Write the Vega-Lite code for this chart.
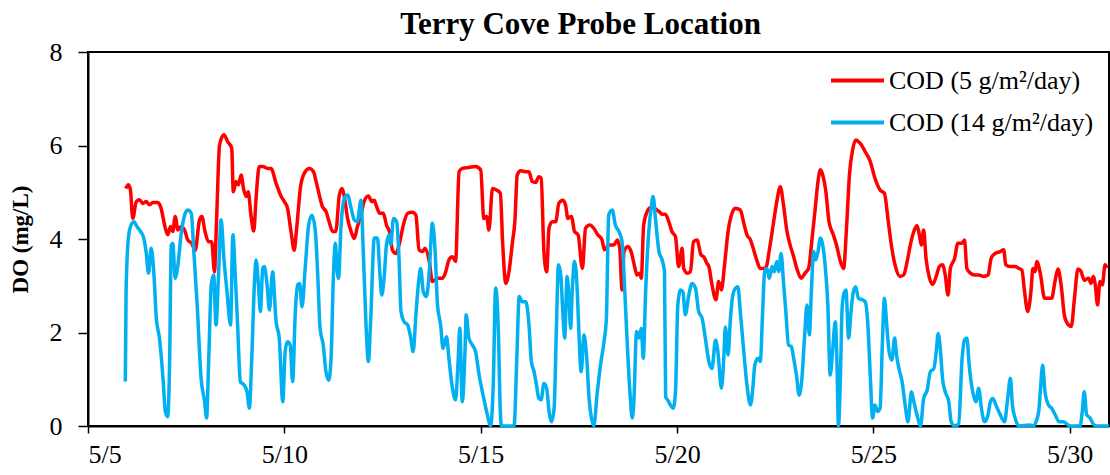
{
  "$schema": "https://vega.github.io/schema/vega-lite/v6.json",
  "width": 1021,
  "height": 374,
  "autosize": {"type": "none"},
  "padding": {"left": 88, "top": 52, "right": 1, "bottom": 49},
  "background": "white",
  "config": {
    "font": "Liberation Serif",
    "view": {"stroke": "black", "strokeWidth": 2},
    "axis": {
      "domainColor": "black",
      "domainWidth": 2,
      "tickColor": "black",
      "tickWidth": 1.5,
      "labelColor": "black",
      "labelFont": "Liberation Serif",
      "labelFontSize": 26,
      "titleFont": "Liberation Serif",
      "grid": false
    }
  },
  "title": {
    "text": "Terry Cove Probe Location",
    "font": "Liberation Serif",
    "fontSize": 31,
    "fontWeight": "bold",
    "color": "black",
    "anchor": "middle",
    "dx": -18,
    "dy": 2,
    "offset": 0
  },
  "datasets": {
    "cod5": [
      {"day": 5.96, "do": 5.08}, {"day": 6.03, "do": 5.16}, {"day": 6.08, "do": 5.05}, {"day": 6.14, "do": 4.44},
      {"day": 6.23, "do": 4.80}, {"day": 6.31, "do": 4.84}, {"day": 6.40, "do": 4.76}, {"day": 6.48, "do": 4.80},
      {"day": 6.57, "do": 4.73}, {"day": 6.65, "do": 4.78}, {"day": 6.78, "do": 4.78}, {"day": 6.86, "do": 4.66},
      {"day": 6.95, "do": 4.30}, {"day": 7.03, "do": 4.09}, {"day": 7.10, "do": 4.27}, {"day": 7.16, "do": 4.16},
      {"day": 7.22, "do": 4.48}, {"day": 7.29, "do": 4.19}, {"day": 7.37, "do": 4.27}, {"day": 7.46, "do": 4.19},
      {"day": 7.54, "do": 3.98}, {"day": 7.64, "do": 3.91}, {"day": 7.73, "do": 3.76}, {"day": 7.84, "do": 4.41},
      {"day": 7.90, "do": 4.48}, {"day": 7.98, "do": 4.16}, {"day": 8.07, "do": 3.94}, {"day": 8.15, "do": 3.94},
      {"day": 8.22, "do": 3.30}, {"day": 8.27, "do": 4.30}, {"day": 8.35, "do": 6.01}, {"day": 8.46, "do": 6.23},
      {"day": 8.56, "do": 6.08}, {"day": 8.66, "do": 5.94}, {"day": 8.70, "do": 5.01}, {"day": 8.77, "do": 5.23},
      {"day": 8.83, "do": 5.16}, {"day": 8.90, "do": 5.37}, {"day": 8.96, "do": 5.08}, {"day": 9.03, "do": 4.91},
      {"day": 9.08, "do": 5.01}, {"day": 9.15, "do": 4.51}, {"day": 9.22, "do": 4.17}, {"day": 9.28, "do": 4.87},
      {"day": 9.36, "do": 5.55}, {"day": 9.45, "do": 5.55}, {"day": 9.58, "do": 5.51}, {"day": 9.66, "do": 5.51},
      {"day": 9.79, "do": 5.19}, {"day": 9.92, "do": 4.91}, {"day": 10.00, "do": 4.80}, {"day": 10.08, "do": 4.66},
      {"day": 10.17, "do": 4.16}, {"day": 10.25, "do": 3.76}, {"day": 10.31, "do": 4.20}, {"day": 10.42, "do": 5.16},
      {"day": 10.53, "do": 5.44}, {"day": 10.64, "do": 5.51}, {"day": 10.74, "do": 5.44}, {"day": 10.82, "do": 5.19},
      {"day": 10.89, "do": 4.94}, {"day": 10.97, "do": 4.69}, {"day": 11.06, "do": 4.59}, {"day": 11.14, "do": 4.37},
      {"day": 11.23, "do": 4.16}, {"day": 11.31, "do": 4.16}, {"day": 11.40, "do": 4.94}, {"day": 11.47, "do": 5.08},
      {"day": 11.52, "do": 4.94}, {"day": 11.61, "do": 4.44}, {"day": 11.70, "do": 4.16}, {"day": 11.78, "do": 4.01},
      {"day": 11.86, "do": 4.26}, {"day": 11.95, "do": 4.51}, {"day": 12.03, "do": 4.80}, {"day": 12.14, "do": 4.92},
      {"day": 12.23, "do": 4.80}, {"day": 12.29, "do": 4.83}, {"day": 12.35, "do": 4.69}, {"day": 12.43, "do": 4.55},
      {"day": 12.52, "do": 4.55}, {"day": 12.60, "do": 4.30}, {"day": 12.69, "do": 4.12}, {"day": 12.75, "do": 3.77},
      {"day": 12.84, "do": 3.69}, {"day": 12.94, "do": 3.94}, {"day": 13.03, "do": 4.30}, {"day": 13.14, "do": 4.55},
      {"day": 13.26, "do": 4.57}, {"day": 13.35, "do": 4.51}, {"day": 13.43, "do": 3.77}, {"day": 13.52, "do": 3.73},
      {"day": 13.58, "do": 3.80}, {"day": 13.69, "do": 3.52}, {"day": 13.77, "do": 3.09}, {"day": 13.90, "do": 3.16},
      {"day": 14.03, "do": 3.16}, {"day": 14.11, "do": 3.30}, {"day": 14.19, "do": 3.55}, {"day": 14.28, "do": 3.62},
      {"day": 14.36, "do": 3.52}, {"day": 14.45, "do": 5.44}, {"day": 14.53, "do": 5.51}, {"day": 14.70, "do": 5.53},
      {"day": 14.87, "do": 5.55}, {"day": 15.00, "do": 5.48}, {"day": 15.08, "do": 4.44}, {"day": 15.15, "do": 4.48},
      {"day": 15.21, "do": 4.19}, {"day": 15.30, "do": 5.08}, {"day": 15.40, "do": 5.05}, {"day": 15.50, "do": 4.98},
      {"day": 15.56, "do": 3.90}, {"day": 15.64, "do": 3.05}, {"day": 15.72, "do": 3.30}, {"day": 15.81, "do": 3.94},
      {"day": 15.87, "do": 4.37}, {"day": 15.93, "do": 5.37}, {"day": 16.02, "do": 5.46}, {"day": 16.15, "do": 5.44},
      {"day": 16.23, "do": 5.44}, {"day": 16.31, "do": 5.23}, {"day": 16.40, "do": 5.21}, {"day": 16.48, "do": 5.33},
      {"day": 16.54, "do": 5.30}, {"day": 16.61, "do": 3.73}, {"day": 16.68, "do": 3.30}, {"day": 16.74, "do": 4.23},
      {"day": 16.82, "do": 4.37}, {"day": 16.91, "do": 4.37}, {"day": 16.99, "do": 4.76}, {"day": 17.09, "do": 4.83},
      {"day": 17.16, "do": 4.73}, {"day": 17.22, "do": 4.44}, {"day": 17.31, "do": 4.48}, {"day": 17.39, "do": 4.16},
      {"day": 17.48, "do": 4.09}, {"day": 17.59, "do": 3.37}, {"day": 17.67, "do": 4.23}, {"day": 17.78, "do": 4.30},
      {"day": 17.88, "do": 4.23}, {"day": 17.98, "do": 4.09}, {"day": 18.09, "do": 3.98}, {"day": 18.15, "do": 3.77},
      {"day": 18.26, "do": 3.87}, {"day": 18.39, "do": 3.87}, {"day": 18.48, "do": 3.98}, {"day": 18.54, "do": 3.80},
      {"day": 18.60, "do": 2.91}, {"day": 18.65, "do": 3.73}, {"day": 18.75, "do": 3.84}, {"day": 18.83, "do": 3.73},
      {"day": 18.92, "do": 3.41}, {"day": 18.98, "do": 3.23}, {"day": 19.05, "do": 3.27}, {"day": 19.09, "do": 3.16},
      {"day": 19.15, "do": 4.30}, {"day": 19.24, "do": 4.59}, {"day": 19.32, "do": 4.67}, {"day": 19.41, "do": 4.66},
      {"day": 19.54, "do": 4.59}, {"day": 19.62, "do": 4.53}, {"day": 19.70, "do": 4.53}, {"day": 19.79, "do": 4.37},
      {"day": 19.87, "do": 4.16}, {"day": 19.96, "do": 4.05}, {"day": 20.04, "do": 3.41}, {"day": 20.13, "do": 3.80},
      {"day": 20.17, "do": 3.37}, {"day": 20.26, "do": 3.27}, {"day": 20.34, "do": 3.30}, {"day": 20.42, "do": 3.94},
      {"day": 20.51, "do": 3.98}, {"day": 20.61, "do": 3.66}, {"day": 20.68, "do": 3.62}, {"day": 20.76, "do": 3.48},
      {"day": 20.81, "do": 3.41}, {"day": 20.89, "do": 3.02}, {"day": 20.99, "do": 2.70}, {"day": 21.06, "do": 3.09},
      {"day": 21.13, "do": 2.91}, {"day": 21.21, "do": 3.45}, {"day": 21.30, "do": 4.16}, {"day": 21.40, "do": 4.55},
      {"day": 21.48, "do": 4.66}, {"day": 21.61, "do": 4.62}, {"day": 21.70, "do": 4.34}, {"day": 21.78, "do": 4.09},
      {"day": 21.87, "do": 3.98}, {"day": 21.95, "do": 3.77}, {"day": 22.04, "do": 3.52}, {"day": 22.12, "do": 3.37},
      {"day": 22.25, "do": 3.37}, {"day": 22.37, "do": 3.87}, {"day": 22.46, "do": 4.37}, {"day": 22.54, "do": 4.80},
      {"day": 22.63, "do": 5.12}, {"day": 22.71, "do": 4.73}, {"day": 22.80, "do": 4.16}, {"day": 22.88, "do": 3.87},
      {"day": 22.97, "do": 3.62}, {"day": 23.05, "do": 3.37}, {"day": 23.16, "do": 3.16}, {"day": 23.26, "do": 3.27},
      {"day": 23.35, "do": 3.37}, {"day": 23.43, "do": 3.94}, {"day": 23.52, "do": 4.66}, {"day": 23.59, "do": 5.23},
      {"day": 23.65, "do": 5.48}, {"day": 23.71, "do": 5.37}, {"day": 23.79, "do": 5.01}, {"day": 23.87, "do": 4.37},
      {"day": 23.98, "do": 4.09}, {"day": 24.07, "do": 3.84}, {"day": 24.15, "do": 3.55}, {"day": 24.24, "do": 3.37},
      {"day": 24.32, "do": 4.30}, {"day": 24.39, "do": 5.37}, {"day": 24.47, "do": 5.90}, {"day": 24.55, "do": 6.12},
      {"day": 24.66, "do": 6.05}, {"day": 24.79, "do": 5.87}, {"day": 24.92, "do": 5.66}, {"day": 25.04, "do": 5.30},
      {"day": 25.17, "do": 5.05}, {"day": 25.28, "do": 4.98}, {"day": 25.38, "do": 4.37}, {"day": 25.47, "do": 3.80},
      {"day": 25.55, "do": 3.45}, {"day": 25.68, "do": 3.20}, {"day": 25.77, "do": 3.23}, {"day": 25.86, "do": 3.52},
      {"day": 25.94, "do": 3.87}, {"day": 26.03, "do": 4.16}, {"day": 26.11, "do": 4.29}, {"day": 26.17, "do": 4.09},
      {"day": 26.22, "do": 3.87}, {"day": 26.28, "do": 4.19}, {"day": 26.34, "do": 3.59}, {"day": 26.43, "do": 3.16},
      {"day": 26.51, "do": 3.03}, {"day": 26.60, "do": 3.20}, {"day": 26.68, "do": 3.41}, {"day": 26.76, "do": 3.45},
      {"day": 26.83, "do": 3.23}, {"day": 26.90, "do": 2.80}, {"day": 26.96, "do": 3.37}, {"day": 27.07, "do": 3.59},
      {"day": 27.15, "do": 3.91}, {"day": 27.26, "do": 3.91}, {"day": 27.32, "do": 3.98}, {"day": 27.38, "do": 3.37},
      {"day": 27.47, "do": 3.27}, {"day": 27.58, "do": 3.23}, {"day": 27.68, "do": 3.23}, {"day": 27.81, "do": 3.20},
      {"day": 27.92, "do": 3.23}, {"day": 28.00, "do": 3.59}, {"day": 28.10, "do": 3.69}, {"day": 28.23, "do": 3.73},
      {"day": 28.32, "do": 3.77}, {"day": 28.37, "do": 3.45}, {"day": 28.48, "do": 3.41}, {"day": 28.61, "do": 3.41},
      {"day": 28.71, "do": 3.37}, {"day": 28.78, "do": 3.34}, {"day": 28.85, "do": 2.87}, {"day": 28.93, "do": 2.45},
      {"day": 29.02, "do": 2.95}, {"day": 29.06, "do": 3.37}, {"day": 29.12, "do": 3.30}, {"day": 29.16, "do": 3.52},
      {"day": 29.25, "do": 3.27}, {"day": 29.36, "do": 2.73}, {"day": 29.46, "do": 2.73}, {"day": 29.54, "do": 2.73},
      {"day": 29.63, "do": 3.12}, {"day": 29.70, "do": 3.36}, {"day": 29.78, "do": 3.02}, {"day": 29.87, "do": 2.34},
      {"day": 29.97, "do": 2.16}, {"day": 30.04, "do": 2.13}, {"day": 30.12, "do": 2.73}, {"day": 30.21, "do": 3.36},
      {"day": 30.29, "do": 3.30}, {"day": 30.37, "do": 3.12}, {"day": 30.48, "do": 3.16}, {"day": 30.54, "do": 3.05},
      {"day": 30.60, "do": 3.20}, {"day": 30.65, "do": 3.02}, {"day": 30.71, "do": 2.59}, {"day": 30.77, "do": 3.09},
      {"day": 30.83, "do": 3.02}, {"day": 30.90, "do": 3.45}, {"day": 30.95, "do": 3.38}
    ],
    "cod14": [
      {"day": 5.95, "do": 0.95}, {"day": 5.97, "do": 2.87}, {"day": 6.02, "do": 3.94}, {"day": 6.08, "do": 4.26},
      {"day": 6.17, "do": 4.37}, {"day": 6.25, "do": 4.26}, {"day": 6.34, "do": 4.16}, {"day": 6.42, "do": 4.02},
      {"day": 6.48, "do": 3.73}, {"day": 6.54, "do": 3.27}, {"day": 6.61, "do": 3.80}, {"day": 6.68, "do": 3.23},
      {"day": 6.74, "do": 2.30}, {"day": 6.82, "do": 1.88}, {"day": 6.91, "do": 1.02}, {"day": 6.97, "do": 0.31},
      {"day": 7.03, "do": 0.20}, {"day": 7.08, "do": 1.45}, {"day": 7.12, "do": 3.87}, {"day": 7.16, "do": 3.91},
      {"day": 7.22, "do": 3.16}, {"day": 7.29, "do": 3.45}, {"day": 7.37, "do": 4.09}, {"day": 7.46, "do": 4.51},
      {"day": 7.54, "do": 4.62}, {"day": 7.63, "do": 4.55}, {"day": 7.69, "do": 3.80}, {"day": 7.78, "do": 2.59},
      {"day": 7.88, "do": 1.02}, {"day": 7.97, "do": 0.52}, {"day": 8.02, "do": 0.17}, {"day": 8.07, "do": 1.30},
      {"day": 8.14, "do": 3.02}, {"day": 8.20, "do": 3.23}, {"day": 8.26, "do": 2.16}, {"day": 8.32, "do": 3.16},
      {"day": 8.39, "do": 4.41}, {"day": 8.46, "do": 3.59}, {"day": 8.54, "do": 2.87}, {"day": 8.63, "do": 2.16},
      {"day": 8.69, "do": 4.09}, {"day": 8.75, "do": 3.23}, {"day": 8.81, "do": 2.16}, {"day": 8.88, "do": 0.95},
      {"day": 8.97, "do": 0.88}, {"day": 9.05, "do": 0.73}, {"day": 9.11, "do": 0.38}, {"day": 9.17, "do": 1.45},
      {"day": 9.24, "do": 3.09}, {"day": 9.28, "do": 3.55}, {"day": 9.34, "do": 3.02}, {"day": 9.39, "do": 2.45},
      {"day": 9.45, "do": 3.37}, {"day": 9.49, "do": 3.41}, {"day": 9.56, "do": 3.02}, {"day": 9.62, "do": 2.48},
      {"day": 9.70, "do": 3.30}, {"day": 9.79, "do": 2.23}, {"day": 9.87, "do": 1.88}, {"day": 9.96, "do": 0.52},
      {"day": 10.02, "do": 1.59}, {"day": 10.08, "do": 1.80}, {"day": 10.15, "do": 1.73}, {"day": 10.21, "do": 0.95},
      {"day": 10.28, "do": 2.45}, {"day": 10.34, "do": 3.02}, {"day": 10.39, "do": 3.05}, {"day": 10.45, "do": 2.55},
      {"day": 10.53, "do": 3.37}, {"day": 10.62, "do": 4.30}, {"day": 10.70, "do": 4.51}, {"day": 10.79, "do": 4.16},
      {"day": 10.85, "do": 3.23}, {"day": 10.91, "do": 2.09}, {"day": 10.99, "do": 1.73}, {"day": 11.06, "do": 1.16},
      {"day": 11.13, "do": 0.98}, {"day": 11.19, "do": 1.45}, {"day": 11.25, "do": 3.23}, {"day": 11.30, "do": 3.91},
      {"day": 11.34, "do": 3.37}, {"day": 11.38, "do": 3.16}, {"day": 11.44, "do": 4.23}, {"day": 11.53, "do": 4.87},
      {"day": 11.61, "do": 4.94}, {"day": 11.70, "do": 4.66}, {"day": 11.78, "do": 4.41}, {"day": 11.86, "do": 4.37},
      {"day": 11.95, "do": 4.83}, {"day": 12.01, "do": 3.73}, {"day": 12.08, "do": 2.16}, {"day": 12.14, "do": 1.38},
      {"day": 12.20, "do": 2.30}, {"day": 12.29, "do": 4.02}, {"day": 12.37, "do": 4.02}, {"day": 12.43, "do": 3.30},
      {"day": 12.48, "do": 2.80}, {"day": 12.54, "do": 3.16}, {"day": 12.60, "do": 3.87}, {"day": 12.67, "do": 4.09},
      {"day": 12.71, "do": 3.87}, {"day": 12.78, "do": 4.44}, {"day": 12.86, "do": 4.37}, {"day": 12.92, "do": 3.59},
      {"day": 12.97, "do": 2.45}, {"day": 13.05, "do": 2.23}, {"day": 13.14, "do": 2.16}, {"day": 13.22, "do": 1.88},
      {"day": 13.28, "do": 1.59}, {"day": 13.35, "do": 2.38}, {"day": 13.42, "do": 3.09}, {"day": 13.47, "do": 3.37},
      {"day": 13.54, "do": 2.87}, {"day": 13.62, "do": 2.77}, {"day": 13.69, "do": 3.30}, {"day": 13.77, "do": 4.34},
      {"day": 13.84, "do": 3.73}, {"day": 13.90, "do": 2.59}, {"day": 13.98, "do": 2.16}, {"day": 14.04, "do": 1.66},
      {"day": 14.13, "do": 1.91}, {"day": 14.19, "do": 1.45}, {"day": 14.28, "do": 0.81}, {"day": 14.36, "do": 0.56},
      {"day": 14.42, "do": 1.30}, {"day": 14.47, "do": 2.09}, {"day": 14.53, "do": 0.52}, {"day": 14.60, "do": 1.59},
      {"day": 14.63, "do": 2.38}, {"day": 14.70, "do": 1.88}, {"day": 14.79, "do": 1.73}, {"day": 14.87, "do": 1.59},
      {"day": 14.96, "do": 1.09}, {"day": 15.06, "do": 0.66}, {"day": 15.17, "do": 0.24}, {"day": 15.25, "do": 0.00},
      {"day": 15.32, "do": 0.88}, {"day": 15.38, "do": 2.95}, {"day": 15.45, "do": 2.02}, {"day": 15.50, "do": 0.30},
      {"day": 15.53, "do": 0.00}, {"day": 15.85, "do": 0.00}, {"day": 15.92, "do": 1.45}, {"day": 15.98, "do": 2.77},
      {"day": 16.06, "do": 2.66}, {"day": 16.15, "do": 2.66}, {"day": 16.23, "do": 2.16}, {"day": 16.29, "do": 1.38},
      {"day": 16.36, "do": 1.16}, {"day": 16.42, "do": 0.88}, {"day": 16.48, "do": 0.59}, {"day": 16.54, "do": 0.56},
      {"day": 16.61, "do": 0.91}, {"day": 16.68, "do": 0.81}, {"day": 16.74, "do": 0.31}, {"day": 16.80, "do": 0.09},
      {"day": 16.87, "do": 0.38}, {"day": 16.93, "do": 2.16}, {"day": 16.98, "do": 3.45}, {"day": 17.04, "do": 3.23},
      {"day": 17.09, "do": 2.45}, {"day": 17.14, "do": 1.88}, {"day": 17.20, "do": 3.20}, {"day": 17.25, "do": 2.73},
      {"day": 17.29, "do": 2.09}, {"day": 17.33, "do": 2.87}, {"day": 17.39, "do": 3.52}, {"day": 17.46, "do": 2.87},
      {"day": 17.50, "do": 2.02}, {"day": 17.56, "do": 1.16}, {"day": 17.63, "do": 1.95}, {"day": 17.70, "do": 1.45},
      {"day": 17.76, "do": 0.59}, {"day": 17.82, "do": 0.17}, {"day": 17.88, "do": 0.00}, {"day": 17.97, "do": 0.73},
      {"day": 18.05, "do": 1.30}, {"day": 18.14, "do": 1.80}, {"day": 18.20, "do": 2.30}, {"day": 18.26, "do": 4.51},
      {"day": 18.35, "do": 4.62}, {"day": 18.43, "do": 4.30}, {"day": 18.52, "do": 4.16}, {"day": 18.60, "do": 3.94},
      {"day": 18.67, "do": 2.87}, {"day": 18.73, "do": 1.80}, {"day": 18.80, "do": 0.73}, {"day": 18.86, "do": 0.17},
      {"day": 18.90, "do": 0.52}, {"day": 18.97, "do": 2.02}, {"day": 19.03, "do": 1.88}, {"day": 19.09, "do": 2.09},
      {"day": 19.14, "do": 1.45}, {"day": 19.20, "do": 2.87}, {"day": 19.28, "do": 4.16}, {"day": 19.34, "do": 4.66},
      {"day": 19.39, "do": 4.91}, {"day": 19.45, "do": 4.44}, {"day": 19.54, "do": 3.73}, {"day": 19.62, "do": 3.55},
      {"day": 19.68, "do": 3.30}, {"day": 19.71, "do": 0.62}, {"day": 19.76, "do": 0.56}, {"day": 19.83, "do": 0.45},
      {"day": 19.90, "do": 0.38}, {"day": 19.96, "do": 0.73}, {"day": 20.02, "do": 2.59}, {"day": 20.09, "do": 2.91},
      {"day": 20.15, "do": 2.87}, {"day": 20.21, "do": 2.38}, {"day": 20.30, "do": 2.80}, {"day": 20.38, "do": 3.05},
      {"day": 20.47, "do": 2.95}, {"day": 20.55, "do": 2.45}, {"day": 20.64, "do": 2.30}, {"day": 20.72, "do": 1.88},
      {"day": 20.81, "do": 1.38}, {"day": 20.89, "do": 1.23}, {"day": 20.98, "do": 1.84}, {"day": 21.04, "do": 1.59},
      {"day": 21.13, "do": 0.81}, {"day": 21.19, "do": 1.45}, {"day": 21.23, "do": 2.12}, {"day": 21.30, "do": 1.52},
      {"day": 21.36, "do": 2.30}, {"day": 21.42, "do": 2.80}, {"day": 21.49, "do": 2.95}, {"day": 21.55, "do": 2.98},
      {"day": 21.61, "do": 2.45}, {"day": 21.70, "do": 1.59}, {"day": 21.78, "do": 0.88}, {"day": 21.87, "do": 0.45},
      {"day": 21.93, "do": 0.81}, {"day": 21.98, "do": 1.30}, {"day": 22.06, "do": 1.45}, {"day": 22.12, "do": 1.38},
      {"day": 22.18, "do": 2.45}, {"day": 22.23, "do": 3.30}, {"day": 22.29, "do": 3.37}, {"day": 22.35, "do": 3.16},
      {"day": 22.42, "do": 3.41}, {"day": 22.48, "do": 3.30}, {"day": 22.54, "do": 3.52}, {"day": 22.59, "do": 3.30},
      {"day": 22.65, "do": 3.69}, {"day": 22.71, "do": 3.09}, {"day": 22.77, "do": 2.45}, {"day": 22.84, "do": 1.73},
      {"day": 22.91, "do": 1.70}, {"day": 22.97, "do": 1.45}, {"day": 23.04, "do": 1.09}, {"day": 23.11, "do": 0.66},
      {"day": 23.18, "do": 1.02}, {"day": 23.25, "do": 1.95}, {"day": 23.31, "do": 2.59}, {"day": 23.37, "do": 1.95},
      {"day": 23.42, "do": 2.87}, {"day": 23.48, "do": 3.73}, {"day": 23.53, "do": 3.55}, {"day": 23.59, "do": 3.73},
      {"day": 23.65, "do": 4.02}, {"day": 23.71, "do": 3.87}, {"day": 23.77, "do": 3.45}, {"day": 23.84, "do": 2.59},
      {"day": 23.90, "do": 1.09}, {"day": 23.96, "do": 1.59}, {"day": 24.03, "do": 2.23}, {"day": 24.07, "do": 1.45},
      {"day": 24.11, "do": 0.00}, {"day": 24.16, "do": 1.02}, {"day": 24.20, "do": 2.45}, {"day": 24.24, "do": 2.80},
      {"day": 24.30, "do": 2.91}, {"day": 24.37, "do": 1.88}, {"day": 24.43, "do": 2.45}, {"day": 24.49, "do": 2.87},
      {"day": 24.55, "do": 2.98}, {"day": 24.62, "do": 2.73}, {"day": 24.72, "do": 2.70}, {"day": 24.79, "do": 2.66},
      {"day": 24.86, "do": 2.16}, {"day": 24.92, "do": 1.09}, {"day": 24.98, "do": 0.17}, {"day": 25.04, "do": 0.45},
      {"day": 25.11, "do": 0.31}, {"day": 25.17, "do": 0.38}, {"day": 25.23, "do": 1.80}, {"day": 25.28, "do": 2.73},
      {"day": 25.34, "do": 2.16}, {"day": 25.40, "do": 1.59}, {"day": 25.47, "do": 1.41}, {"day": 25.54, "do": 1.88},
      {"day": 25.59, "do": 1.52}, {"day": 25.65, "do": 1.23}, {"day": 25.73, "do": 0.95}, {"day": 25.82, "do": 0.38},
      {"day": 25.88, "do": 0.09}, {"day": 25.97, "do": 0.73}, {"day": 26.03, "do": 0.52}, {"day": 26.11, "do": 0.24},
      {"day": 26.20, "do": 0.00}, {"day": 26.28, "do": 0.59}, {"day": 26.37, "do": 0.77}, {"day": 26.45, "do": 1.16},
      {"day": 26.54, "do": 1.23}, {"day": 26.60, "do": 1.59}, {"day": 26.65, "do": 1.98}, {"day": 26.71, "do": 1.59},
      {"day": 26.76, "do": 1.02}, {"day": 26.83, "do": 0.73}, {"day": 26.92, "do": 0.52}, {"day": 26.98, "do": 0.09},
      {"day": 27.07, "do": 0.00}, {"day": 27.17, "do": 0.04}, {"day": 27.26, "do": 1.45}, {"day": 27.32, "do": 1.84},
      {"day": 27.38, "do": 1.88}, {"day": 27.44, "do": 1.30}, {"day": 27.53, "do": 0.73}, {"day": 27.61, "do": 0.52},
      {"day": 27.68, "do": 0.81}, {"day": 27.75, "do": 0.38}, {"day": 27.83, "do": 0.09}, {"day": 27.92, "do": 0.24},
      {"day": 27.98, "do": 0.52}, {"day": 28.04, "do": 0.59}, {"day": 28.12, "do": 0.45}, {"day": 28.23, "do": 0.24},
      {"day": 28.34, "do": 0.09}, {"day": 28.42, "do": 0.59}, {"day": 28.49, "do": 1.02}, {"day": 28.54, "do": 0.45},
      {"day": 28.61, "do": 0.17}, {"day": 28.70, "do": 0.00}, {"day": 28.99, "do": 0.02}, {"day": 29.08, "do": 0.00},
      {"day": 29.14, "do": 0.09}, {"day": 29.21, "do": 0.31}, {"day": 29.25, "do": 0.73}, {"day": 29.31, "do": 1.30},
      {"day": 29.37, "do": 0.73}, {"day": 29.46, "do": 0.45}, {"day": 29.54, "do": 0.38}, {"day": 29.63, "do": 0.24},
      {"day": 29.73, "do": 0.09}, {"day": 29.84, "do": 0.09}, {"day": 29.93, "do": 0.04}, {"day": 30.01, "do": 0.00},
      {"day": 30.26, "do": 0.00}, {"day": 30.32, "do": 0.31}, {"day": 30.37, "do": 0.73}, {"day": 30.43, "do": 0.24},
      {"day": 30.52, "do": 0.17}, {"day": 30.60, "do": 0.04}, {"day": 30.69, "do": 0.00}, {"day": 31.00, "do": 0.00}
    ]
  },
  "encoding": {
    "x": {
      "field": "day",
      "type": "quantitative",
      "scale": {"domain": [5, 31], "nice": false, "zero": false},
      "axis": {
        "title": null,
        "values": [5, 10, 15, 20, 25, 30],
        "labelExpr": "'5/' + datum.value",
        "tickSize": 7,
        "labelPadding": 8
      }
    },
    "y": {
      "field": "do",
      "type": "quantitative",
      "scale": {"domain": [0, 8], "nice": false},
      "axis": {
        "title": "DO (mg/L)",
        "titleFont": "Liberation Serif",
        "titleFontSize": 23,
        "titleFontWeight": "bold",
        "titleColor": "black",
        "titleX": -68,
        "titleY": 187,
        "titleAlign": "center",
        "titleBaseline": "middle",
        "titleAngle": -90,
        "values": [0, 2, 4, 6, 8],
        "tickSize": 10,
        "labelPadding": 16
      }
    }
  },
  "layer": [
    {
      "data": {"name": "cod5"},
      "mark": {"type": "line", "strokeWidth": 3.5, "interpolate": "monotone"},
      "encoding": {
        "color": {
          "datum": "COD (5 g/m²/day)",
          "type": "nominal",
          "scale": {
            "domain": ["COD (5 g/m²/day)", "COD (14 g/m²/day)"],
            "range": ["#FF0000", "#00B0F0"]
          },
          "legend": {
            "title": null,
            "orient": "none",
            "legendX": 741,
            "legendY": 0,
            "symbolType": "stroke",
            "symbolSize": 2809,
            "symbolStrokeWidth": 4,
            "labelFont": "Liberation Serif",
            "labelFontSize": 26,
            "labelColor": "black",
            "labelOffset": 3,
            "labelLimit": 400,
            "rowPadding": -2
          }
        }
      }
    },
    {
      "data": {"name": "cod14"},
      "mark": {"type": "line", "strokeWidth": 3.5, "interpolate": "monotone"},
      "encoding": {
        "color": {"datum": "COD (14 g/m²/day)", "type": "nominal"}
      }
    }
  ]
}
